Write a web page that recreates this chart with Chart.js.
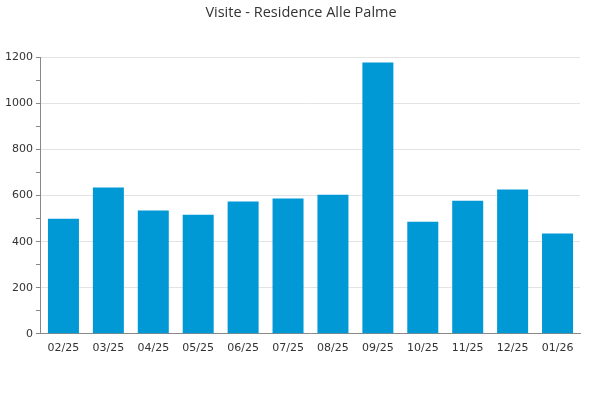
<!DOCTYPE html>
<html>
<head>
<meta charset="utf-8">
<script src="https://cdn.jsdelivr.net/npm/chart.js@4/dist/chart.umd.min.js"></script>
<style>
  html, body { margin: 0; padding: 0; background: #fff; }
</style>
</head>
<body>
<canvas id="mycanvas" width="600" height="400"></canvas>
<script>
var months = ['02/25', '03/25', '04/25', '05/25', '06/25', '07/25', '08/25', '09/25', '10/25', '11/25', '12/25', '01/26'];
var visits = [500, 635, 535, 517, 574, 587, 604, 1178, 487, 578, 626, 435];
var yMax = 1200;

var ctx = document.getElementById('mycanvas');

var barGraph = new Chart(ctx, {
	type: 'bar',
	data: {
		labels: months,
		datasets: [{
			label: 'Visite',
			backgroundColor: '#0098d5',
			borderWidth: 0,
			categoryPercentage: 1,
			barPercentage: 0.69,
			data: visits
		}]
	},
	options: {
		responsive: false,
		animation: false,
		devicePixelRatio: 1,
		layout: { padding: { left: 2, right: 0, top: 0, bottom: 37 } },
		plugins: {
			legend: { display: false },
			tooltip: { enabled: false },
			title: {
				display: true,
				text: 'Visite - Residence Alle Palme',
				color: '#333',
				font: { family: 'Open Sans', size: 14.5, weight: 'normal' },
				padding: { top: 4, bottom: 36 }
			}
		},
		scales: {
			x: {
				grid: { display: false, drawTicks: false },
				border: { color: '#888', width: 1 },
				ticks: {
					color: '#333',
					font: { family: 'DejaVu Sans', size: 11 },
					padding: 8,
					maxRotation: 0,
					autoSkip: false
				}
			},
			y: {
				min: 0,
				max: yMax,
				border: { color: '#888', width: 1 },
				grid: {
					color: function(c) { return (c.tick && c.tick.value % 200 === 0 && c.tick.value > 0) ? '#e3e3e3' : 'rgba(0,0,0,0)'; },
					tickColor: '#888',
					tickLength: 5
				},
				ticks: {
					stepSize: 100,
					color: '#333',
					font: { family: 'DejaVu Sans', size: 11 },
					padding: 3,
					callback: function(v) { return v % 200 === 0 ? v : ''; }
				}
			},
			// empty right axis, just keeps a 20px gap on the right
			yRight: {
				position: 'right',
				min: 0,
				max: yMax,
				grid: { display: false, drawTicks: false },
				border: { display: false },
				ticks: { display: false },
				afterFit: function(s) { s.width = 20; }
			}
		}
	}
});
</script>
</body>
</html>
